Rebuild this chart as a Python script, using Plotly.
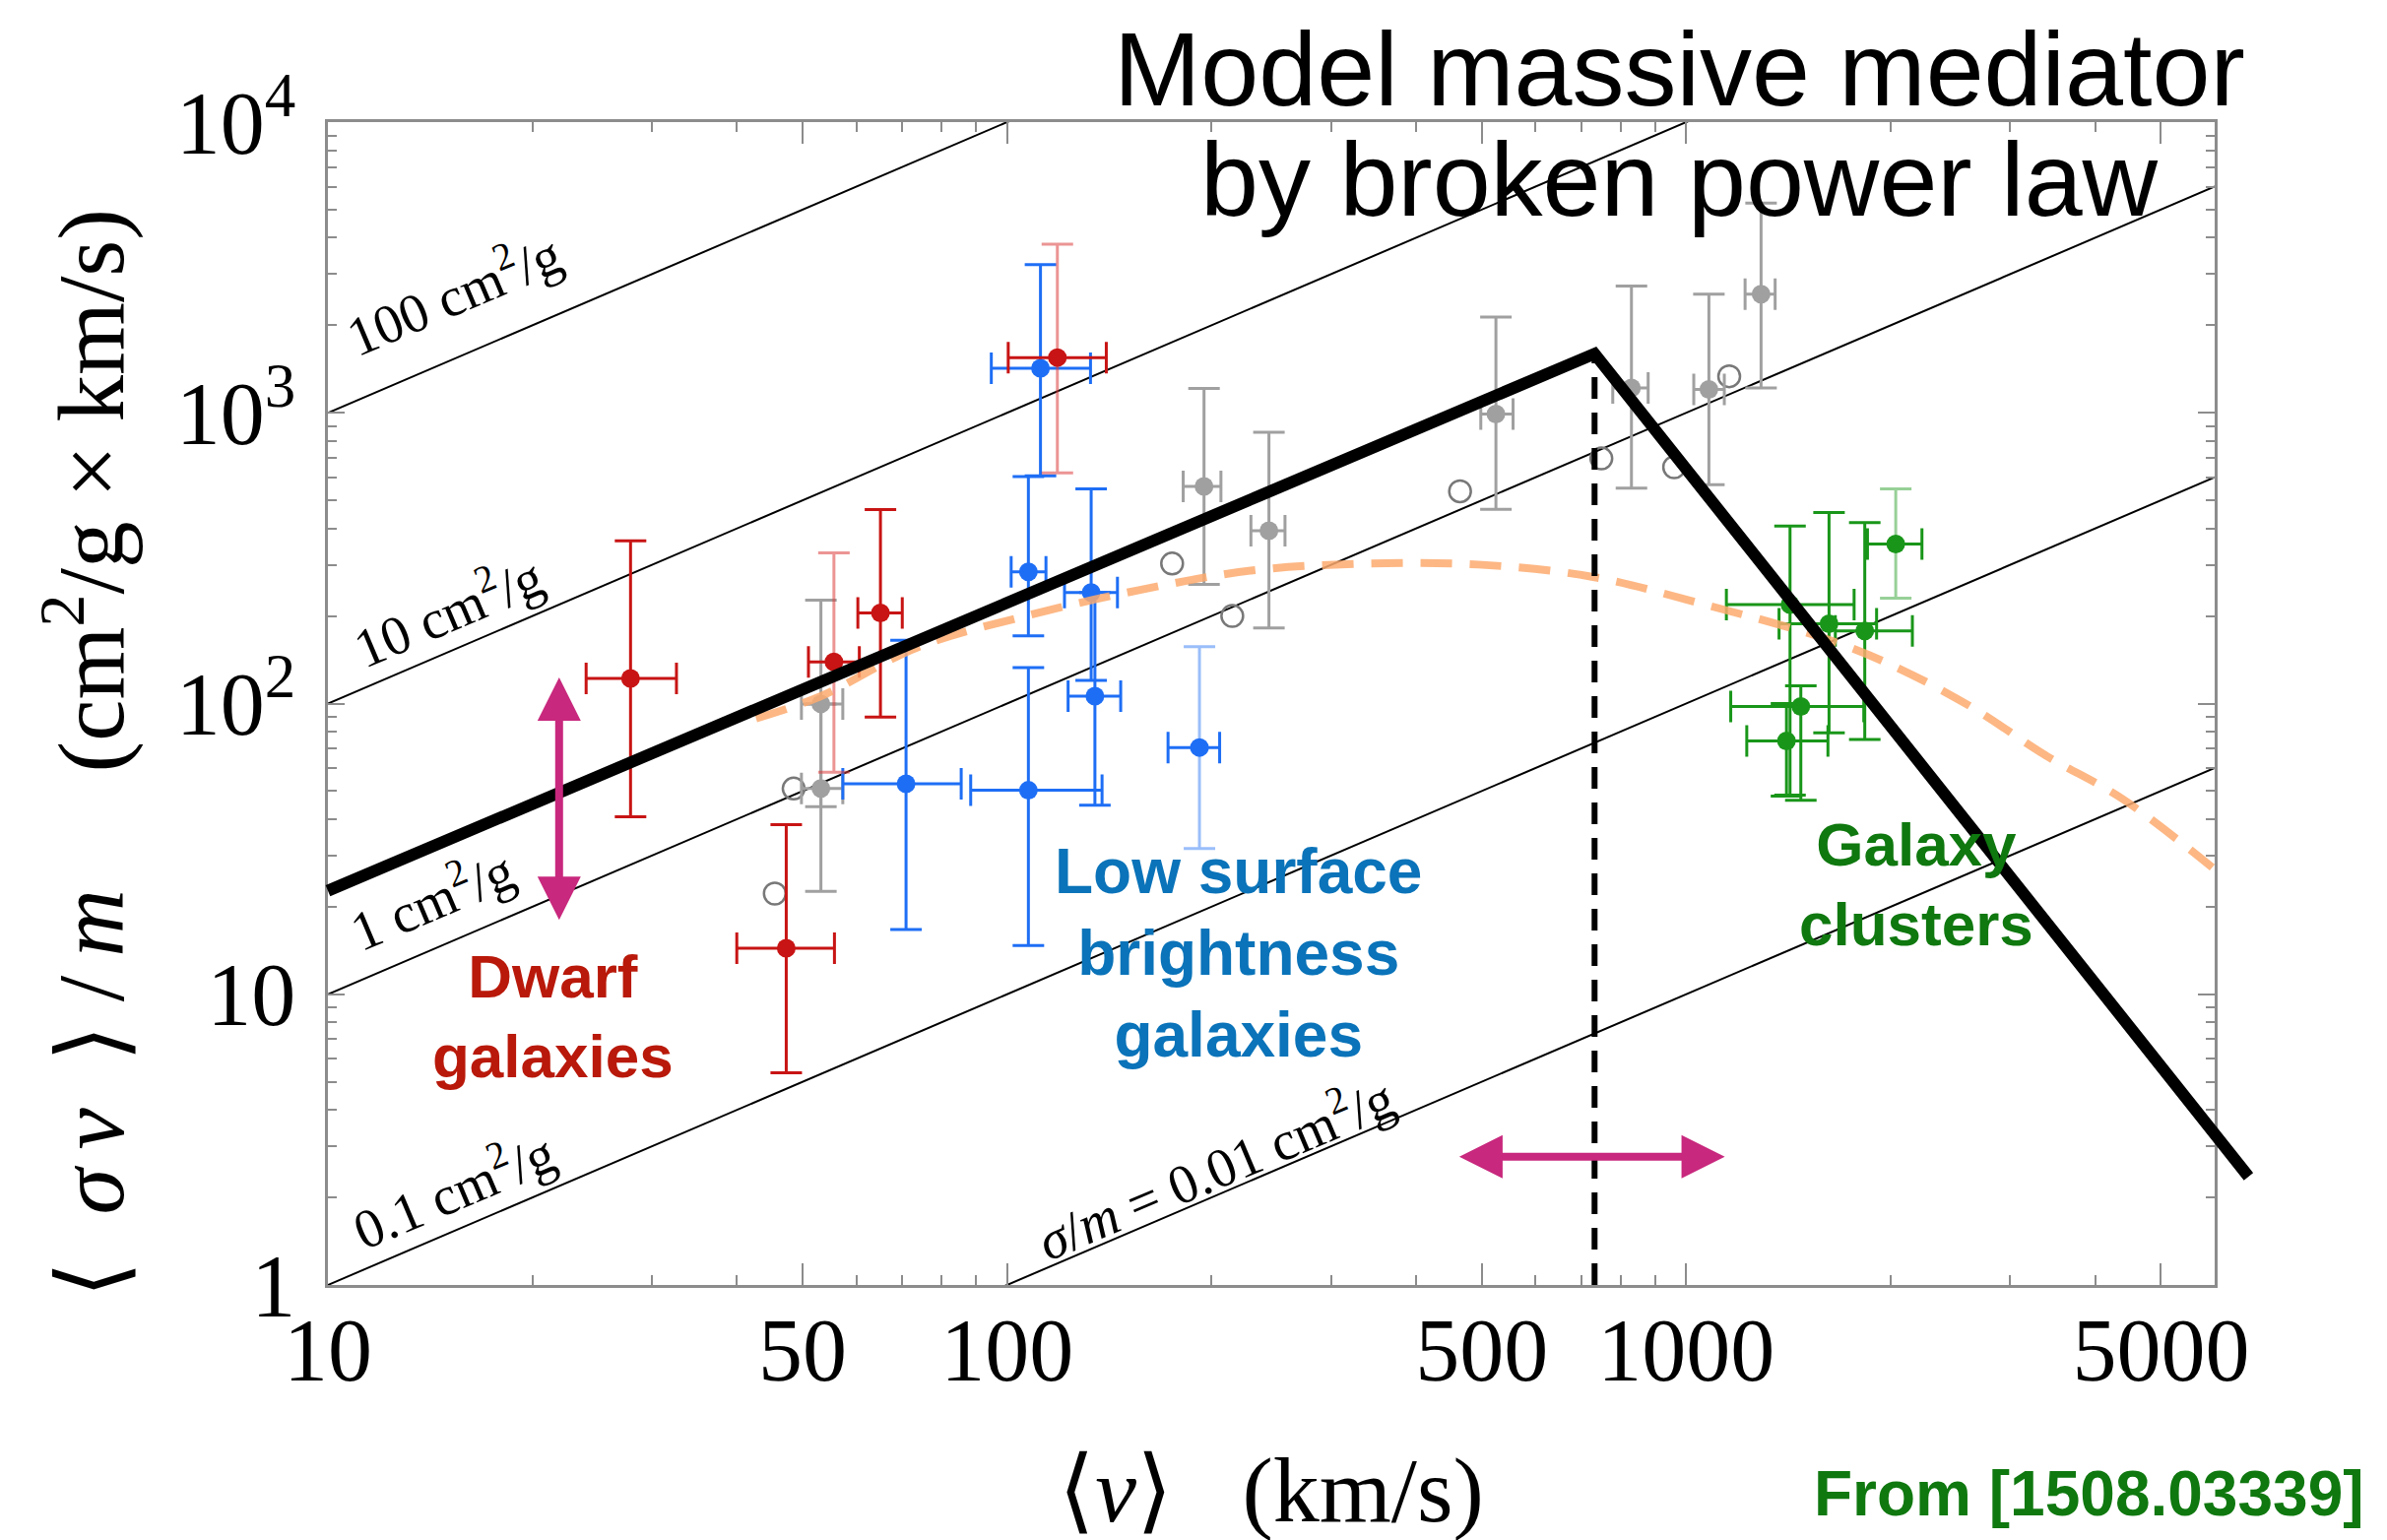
import math
import plotly.graph_objects as go

# ---------------- data ----------------
x_tickvals = [10, 50, 100, 500, 1000, 5000]
x_ticktext = ["10", "50", "100", "500", "1000", "5000"]
x_minor = [20, 30, 40, 60, 70, 80, 90, 200, 300, 400, 600, 700, 800, 900, 2000, 3000, 4000]
y_tickvals = [1, 10, 100, 1000, 10000]
y_ticktext = ["1", "10", "10<sup>2</sup>", "10<sup>3</sup>", "10<sup>4</sup>"]
y_minor = [m * 10 ** k for k in range(4) for m in range(2, 10)]

v_range = [10, 6000]
y_range = [1, 10000]

sigma_m = [100, 10, 1, 0.1, 0.01]
sigma_lbl = ["100 cm<sup>2</sup>/g", "10 cm<sup>2</sup>/g", "1 cm<sup>2</sup>/g",
             "0.1 cm<sup>2</sup>/g", "<i>σ</i>/<i>m</i> = 0.01 cm<sup>2</sup>/g"]
sigma_lbl_v = [15.3, 15.0, 14.2, 15.3, 202]
sigma_lbl_y = [2600, 212, 21.5, 2.15, 2.55]

# dwarf galaxies
dwarf_v = [27.9, 65.1, 47.3]
dwarf_y = [122, 205, 14.4]
dwarf_y_lo = [40.8, 89.9, 5.37]
dwarf_y_hi = [363, 465, 38.3]
dwarf_v_lo = [24.0, 60.3, 40.0]
dwarf_v_hi = [32.6, 70.1, 55.7]
dwarf2_v = [55.6, 118.6]
dwarf2_y = [139, 1549]
dwarf2_y_lo = [58, 622]
dwarf2_y_hi = [330, 3800]
dwarf2_v_lo = [51.0, 100.4]
dwarf2_v_hi = [60.6, 140]

# low surface brightness galaxies
lsb_v = [112, 107.5, 107.5, 71, 133, 134.7]
lsb_y = [1424, 284, 50.3, 53, 241, 106]
lsb_y_lo = [607, 171, 14.7, 16.7, 120, 44.7]
lsb_y_hi = [3233, 604, 133, 165, 547, 241]
lsb_v_lo = [94.8, 101.4, 88.4, 57.3, 121.5, 123]
lsb_v_hi = [132.7, 114.1, 138, 85.6, 145.4, 147]
lsb2_v = [192]
lsb2_y = [70.6]
lsb2_y_lo = [31.7]
lsb2_y_hi = [157]
lsb2_v_lo = [172.6]
lsb2_v_hi = [205.6]

# grey points (filled)
grey_v = [53.2, 53.2, 195, 243, 524.6, 830.6, 1080, 1289]
grey_y = [99.7, 51.0, 558, 393, 990, 1218, 1203, 2558]
grey_y_lo = [44.2, 22.6, 257, 182, 465.6, 551, 565.5, 1218]
grey_y_hi = [227, 99.7, 1213, 858, 2133, 2731, 2558, 5270]
grey_v_lo = [49.8, 49.8, 181.7, 228.6, 498.4, 779.6, 1026, 1221]
grey_v_hi = [57.3, 57.3, 206.5, 256.6, 556, 879, 1138, 1352]
# grey open circles
open_v = [48.5, 45.5, 175, 214.6, 464.5, 750, 960, 1157]
open_y = [51, 22.2, 303, 200, 537, 697, 650, 1335]

# galaxy clusters
cl_v = [1623, 1832, 1475, 1405, 1422]
cl_y = [188, 177.8, 97.7, 74.3, 219]
cl_y_lo = [79.3, 75.3, 46.5, 48, 48.4]
cl_y_hi = [453.6, 419, 115, 100, 408]
cl_v_lo = [1370, 1658, 1163, 1228, 1146]
cl_v_hi = [1907, 2153, 1826, 1617, 1767]
cl2_v = [2035]
cl2_y = [354]
cl2_y_lo = [230.5]
cl2_y_hi = [547]
cl2_v_lo = [1849]
cl2_v_hi = [2224]

# orange dashed fit curve
fit_v = [42.7, 53.0, 73.8, 108.3, 157, 230, 338, 494, 726, 1065, 1617, 2036, 2624, 3390, 4377, 5950]
fit_y = [88.9, 105.6, 156, 202, 246, 287, 303, 300.6, 273, 219, 166, 133.5, 97.6, 66.1, 47.2, 27.3]

# broken power law
bpl_v = [10, 733, 6730]
bpl_y = [22.7, 1597, 2.36]
v_break = 733

# magenta arrows
varrow_v = 21.9
varrow_y = [123, 17.8]
harrow_y = 2.76
harrow_v = [461, 1140]

# ---------------- layout geometry ----------------
W, H = 2424, 1564
dom_x = [325 / W, 2241 / W]
dom_y = [1 - 1297 / H, 1 - 116 / H]
rx = [math.log10(v_range[0]), math.log10(v_range[1])]
ry = [math.log10(y_range[0]), math.log10(y_range[1])]


def full_range(r, d):
    span = (r[1] - r[0]) / (d[1] - d[0])
    return [r[0] - d[0] * span, r[1] + (1 - d[1]) * span]


rx2 = full_range(rx, dom_x)
ry2 = full_range(ry, dom_y)

SERIF = "Liberation Serif"
SANS = "Liberation Sans"

RED = "rgb(200,20,20)"
RED_F = "rgba(220,60,60,0.55)"
BLUE = "rgb(30,110,245)"
BLUE_F = "rgba(30,110,245,0.45)"
GREY = "rgb(160,160,160)"
GREEN = "rgb(25,150,25)"
GREEN_F = "rgba(25,150,25,0.45)"

fig = go.Figure()

# sigma/m reference lines
for s in sigma_m:
    fig.add_trace(go.Scatter(x=v_range, y=[s * v_range[0], s * v_range[1]], mode="lines",
                             line=dict(color="black", width=2), showlegend=False,
                             hoverinfo="skip"))


def err_trace(v, y, vlo, vhi, ylo, yhi, color, ycolor, size=19, thick=3, cap=16):
    return go.Scatter(
        x=v, y=y, mode="markers",
        marker=dict(color=color, size=size, symbol="circle"),
        error_x=dict(type="data", symmetric=False,
                     array=[h - c for h, c in zip(vhi, v)],
                     arrayminus=[c - l for l, c in zip(vlo, v)],
                     color=color, thickness=thick, width=cap),
        error_y=dict(type="data", symmetric=False,
                     array=[h - c for h, c in zip(yhi, y)],
                     arrayminus=[c - l for l, c in zip(ylo, y)],
                     color=ycolor, thickness=thick, width=cap),
        showlegend=False)


fig.add_trace(go.Scatter(x=open_v, y=open_y, mode="markers",
                         marker=dict(symbol="circle-open", color="rgb(120,120,120)", size=22,
                                     line=dict(width=2.5)), showlegend=False))
fig.add_trace(err_trace(grey_v, grey_y, grey_v_lo, grey_v_hi, grey_y_lo, grey_y_hi, GREY, GREY))
fig.add_trace(err_trace(cl2_v, cl2_y, cl2_v_lo, cl2_v_hi, cl2_y_lo, cl2_y_hi, GREEN, GREEN_F))
fig.add_trace(err_trace(cl_v, cl_y, cl_v_lo, cl_v_hi, cl_y_lo, cl_y_hi, GREEN, GREEN))
fig.add_trace(err_trace(lsb2_v, lsb2_y, lsb2_v_lo, lsb2_v_hi, lsb2_y_lo, lsb2_y_hi, BLUE, BLUE_F))
fig.add_trace(err_trace(lsb_v, lsb_y, lsb_v_lo, lsb_v_hi, lsb_y_lo, lsb_y_hi, BLUE, BLUE))
fig.add_trace(err_trace(dwarf2_v, dwarf2_y, dwarf2_v_lo, dwarf2_v_hi, dwarf2_y_lo, dwarf2_y_hi, RED, RED_F))
fig.add_trace(err_trace(dwarf_v, dwarf_y, dwarf_v_lo, dwarf_v_hi, dwarf_y_lo, dwarf_y_hi, RED, RED))

# orange dashed curve
fig.add_trace(go.Scatter(x=fit_v, y=fit_y, mode="lines",
                         line=dict(color="rgba(253,170,110,0.85)", width=8, dash="32px,18px", shape="spline"),
                         showlegend=False))

# dotted vertical at the break
fig.add_trace(go.Scatter(x=[v_break, v_break], y=[y_range[0], bpl_y[1]], mode="lines",
                         line=dict(color="black", width=6, dash="22px,14px"), showlegend=False))

# broken power law (on the full-page overlay axes so it can leave the frame)
fig.add_trace(go.Scatter(x=bpl_v, y=bpl_y, mode="lines", xaxis="x2", yaxis="y2",
                         line=dict(color="black", width=12), showlegend=False))

ax_common = dict(type="log", showgrid=False, zeroline=False, showline=True, linecolor="#8c8c8c",
                 linewidth=2.5, mirror="allticks", ticks="inside", tickcolor="#8c8c8c",
                 tickwidth=2, tickfont=dict(family=SERIF, size=90, color="black"))

NB = "\u00a0"
TH = "\u2009"
x_title = "⟨<i>v</i>⟩" + NB * 3 + "(km/s)"
y_title = ("⟨" + NB * 2 + "<i>σ</i>" + TH + "<i>v</i>" + NB * 2 + "⟩" + NB + "/" + TH + "<i>m</i>"
           + NB * 5 + "(cm<sup>2</sup>/g × km/s)")

fig.update_layout(
    width=W, height=H, margin=dict(l=0, r=0, t=0, b=0),
    paper_bgcolor="white", plot_bgcolor="rgba(0,0,0,0)",
    xaxis=dict(**ax_common, domain=dom_x, range=rx, tickvals=x_tickvals, ticktext=x_ticktext,
               ticklen=22, ticklabelstandoff=-14,
               minor=dict(tickvals=x_minor, ticks="inside", ticklen=10, tickcolor="#8c8c8c", tickwidth=2),
               title=dict(text=x_title, font=dict(family=SERIF, size=94, color="black"), standoff=60),
               anchor="y", automargin=False),
    yaxis=dict(**ax_common, domain=dom_y, range=ry, tickvals=y_tickvals, ticktext=y_ticktext,
               ticklen=17, ticklabelstandoff=12,
               minor=dict(tickvals=y_minor, ticks="inside", ticklen=9, tickcolor="#8c8c8c", tickwidth=2),
               anchor="x", automargin=False),
    xaxis2=dict(type="log", domain=[0, 1], range=rx2, visible=False, anchor="y2"),
    yaxis2=dict(type="log", domain=[0, 1], range=ry2, visible=False, anchor="x2"),
)

ann = []
for lbl, lv, ly in zip(sigma_lbl, sigma_lbl_v, sigma_lbl_y):
    ann.append(dict(x=math.log10(lv), y=math.log10(ly), xref="x", yref="y", text=lbl, showarrow=False,
                    textangle=-23, font=dict(family=SERIF, size=56, color="black"),
                    xanchor="center", yanchor="middle"))

arrow_style = dict(showarrow=True, arrowhead=2, startarrowhead=2, arrowside="end+start",
                   arrowsize=1.1, startarrowsize=1.1, arrowwidth=8, arrowcolor="rgb(200,40,125)", text="",
                   xref="x2", yref="y2", axref="x2", ayref="y2")
ann.append(dict(x=math.log10(varrow_v), y=math.log10(varrow_y[0]),
                ax=math.log10(varrow_v), ay=math.log10(varrow_y[1]), **arrow_style))
ann.append(dict(x=math.log10(harrow_v[1]), y=math.log10(harrow_y),
                ax=math.log10(harrow_v[0]), ay=math.log10(harrow_y), **arrow_style))

center = dict(xref="paper", yref="paper", showarrow=False, xanchor="center", yanchor="middle")
# y-axis title
ann.append(dict(x=78 / W, y=1 - 757 / H, text=y_title, textangle=-90,
                font=dict(family=SERIF, size=95, color="black"), **center))
ann.append(dict(x=553 / W, y=1 - 1024 / H, text="<b>Dwarf<br>galaxies</b>",
                font=dict(family=SANS, size=62, color="rgb(185,25,10)"), **center))
ann.append(dict(x=1249 / W, y=1 - 960 / H, text="<b>Low surface<br>brightness<br>galaxies</b>",
                font=dict(family=SANS, size=64, color="rgb(10,115,185)"), **center))
ann.append(dict(x=1938 / W, y=1 - 890 / H, text="<b>Galaxy<br>clusters</b>",
                font=dict(family=SANS, size=62, color="rgb(15,120,15)"), **center))
ann.append(dict(x=2395 / W, y=1 - 1509 / H, xref="paper", yref="paper", showarrow=False,
                xanchor="right", yanchor="middle",
                text="<b>From [1508.03339]</b>", font=dict(family=SANS, size=64, color="rgb(15,120,15)")))
ann.append(dict(x=1697 / W, y=1 - 62 / H, text="Model massive mediator",
                font=dict(family=SANS, size=106, color="black"), **center))
ann.append(dict(x=1697 / W, y=1 - 174 / H, text="by broken power law",
                font=dict(family=SANS, size=106, color="black"), **center))
fig.update_layout(annotations=ann)

fig.write_html("out.html")
